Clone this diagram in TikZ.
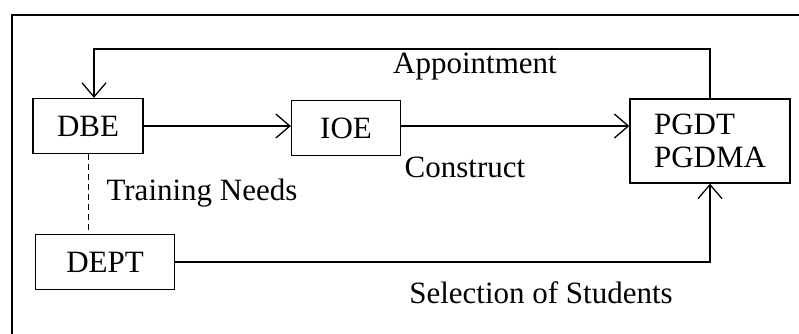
\documentclass[tikz,border=0pt]{standalone}
\usepackage{fontspec}
\setmainfont{Liberation Serif}
\usetikzlibrary{arrows.meta}

\begin{document}
\begin{tikzpicture}[x=1pt,y=-1pt,line width=1.3pt,
  font=\fontsize{31}{33}\selectfont,
  box/.style={draw,minimum height=55pt,inner sep=0pt},
  >={Straight Barb[length=14pt,width=24pt]}]
  \useasboundingbox (0,0) rectangle (799,334);
  % frame
  \draw (12,334) -- (12,15) -- (799,15);

  \node[box,minimum width=110pt] (dbe) at (88,126) {DBE};
  \node[box,minimum width=109pt] (ioe) at (346,128) {IOE};
  \node[box,minimum width=160pt,minimum height=84pt,align=left] (pgd) at (710,141) {PGDT\\PGDMA};
  \node[box,minimum width=139pt] (dept) at (105,262) {DEPT};

  \node (appt) at (475,67) {Appointment};
  \node (cons) at (465,167) {Construct};
  \node (need) at (202,193) {Training Needs};
  \node (sel) at (541,293) {Selection of Students};

  \coordinate (up) at (709,49);
  \draw[->] (pgd.north) -- (pgd.north |- up) -| ([xshift=6pt]dbe.north);
  \draw[->] (dbe.east) -- (ioe.west |- dbe.east);
  \draw[->] (ioe.east |- dbe.east) -- (pgd.west |- dbe.east);
  \draw[dash pattern=on 6pt off 4pt,line width=1pt] (dbe.south) -- (dbe.south |- dept.north);
  \draw[->] (dept.east) -| (pgd.south);
\end{tikzpicture}
\end{document}
